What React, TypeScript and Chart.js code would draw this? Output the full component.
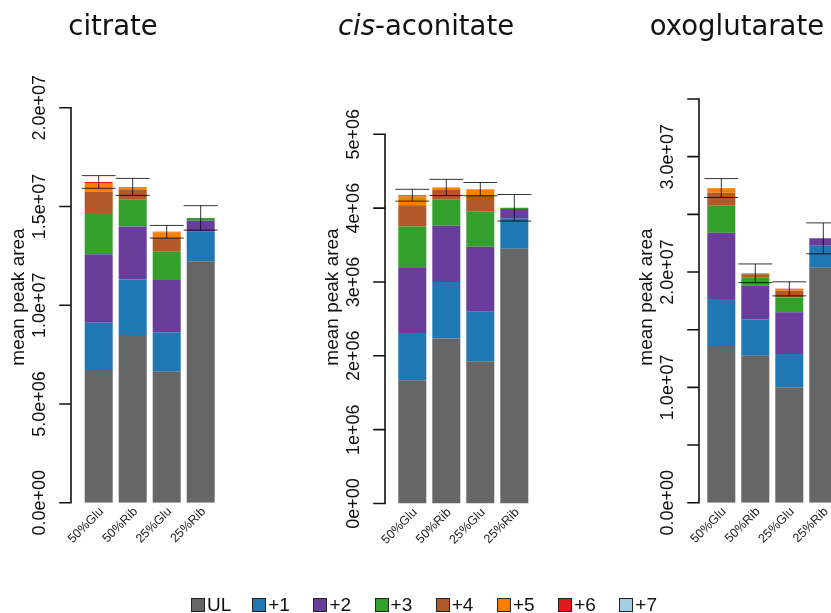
import React, { useEffect, useRef } from "react";
import { Chart, registerables } from "chart.js";

Chart.register(...registerables);

// Sample groups and isotopologue series
const groups = ["50%Glu", "50%Rib", "25%Glu", "25%Rib"];
const isotopologues = ["UL", "+1", "+2", "+3", "+4", "+5", "+6", "+7"];
const isoColors = ["#666666", "#1f78b4", "#6a3d9a", "#33a02c", "#b15928", "#ff7f00", "#e31a1c", "#a6cee3"];

// citrate: mean peak area per isotopologue (one row per series, one column per group)
const citrateAreas = [
  [6.72e6, 8.49e6, 6.63e6, 12.22e6],
  [2.39e6, 2.82e6, 2.0e6, 1.5e6],
  [3.47e6, 2.68e6, 2.65e6, 0.56e6],
  [2.09e6, 1.35e6, 1.43e6, 0.14e6],
  [1.08e6, 0.49e6, 0.71e6, 0],
  [0.44e6, 0.15e6, 0.27e6, 0],
  [0.05e6, 0.01e6, 0.03e6, 0],
  [0, 0, 0, 0],
];
const citrateSd = [0.32e6, 0.43e6, 0.32e6, 0.62e6];
const citrateTicks = [0, 5e6, 1e7, 1.5e7, 2e7];
const citrateTickLabels = ["0.0e+00", "5.0e+06", "1.0e+07", "1.5e+07", "2.0e+07"];

// cis-aconitate
const aconitateAreas = [
  [1.67e6, 2.234e6, 1.927e6, 3.45e6],
  [0.64e6, 0.766e6, 0.67e6, 0.405e6],
  [0.89e6, 0.76e6, 0.88e6, 0.135e6],
  [0.55e6, 0.36e6, 0.48e6, 0.015e6],
  [0.29e6, 0.125e6, 0.22e6, 0],
  [0.12e6, 0.03e6, 0.075e6, 0],
  [0.015e6, 0.005e6, 0.005e6, 0],
  [0, 0, 0, 0],
];
const aconitateSd = [0.08e6, 0.11e6, 0.09e6, 0.18e6];
const aconitateTicks = [0, 1e6, 2e6, 3e6, 4e6, 5e6];
const aconitateTickLabels = ["0e+00", "1e+06", "2e+06", "3e+06", "4e+06", "5e+06"];

// oxoglutarate
const oxoglutarateAreas = [
  [13.59e6, 12.74e6, 10.0e6, 20.37e6],
  [4.07e6, 3.16e6, 2.89e6, 1.91e6],
  [5.75e6, 2.91e6, 3.62e6, 0.64e6],
  [2.34e6, 0.73e6, 1.3e6, 0],
  [1.13e6, 0.26e6, 0.57e6, 0],
  [0.38e6, 0.09e6, 0.15e6, 0],
  [0.02e6, 0, 0.01e6, 0],
  [0, 0, 0, 0],
];
const oxoglutarateSd = [0.82e6, 0.81e6, 0.61e6, 1.34e6];
const oxoglutarateTicks = [0, 5e6, 1e7, 1.5e7, 2e7, 2.5e7, 3e7, 3.5e7];
const oxoglutarateTickLabels = ["0.0e+00", "", "1.0e+07", "", "2.0e+07", "", "3.0e+07", ""];

const CANVAS_W = 880;
const CANVAS_H = 613;
const SANS = '"Liberation Sans", Arial, sans-serif';

type TitlePart = { text: string; italic?: boolean };

type PanelSpec = {
  title: TitlePart[];
  titleCenter: number;
  areas: number[][];
  sd: number[];
  ticks: number[];
  tickLabels: string[];
  area: { left: number; right: number; top: number; bottom: number };
  axisX: number;
};

const panels: PanelSpec[] = [
  {
    title: [{ text: "citrate" }],
    titleCenter: 113,
    areas: citrateAreas,
    sd: citrateSd,
    ticks: citrateTicks,
    tickLabels: citrateTickLabels,
    area: { left: 81.7, right: 217.7, top: 107.7, bottom: 502.7 },
    axisX: 71,
  },
  {
    title: [{ text: "cis", italic: true }, { text: "-aconitate" }],
    titleCenter: 426,
    areas: aconitateAreas,
    sd: aconitateSd,
    ticks: aconitateTicks,
    tickLabels: aconitateTickLabels,
    area: { left: 395.3, right: 531.3, top: 134.3, bottom: 503.5 },
    axisX: 385,
  },
  {
    title: [{ text: "oxoglutarate" }],
    titleCenter: 737,
    areas: oxoglutarateAreas,
    sd: oxoglutarateSd,
    ticks: oxoglutarateTicks,
    tickLabels: oxoglutarateTickLabels,
    area: { left: 704.3, right: 840.3, top: 99, bottom: 502.7 },
    axisX: 699,
  },
];

function makeDecorations(spec: PanelSpec) {
  return {
    id: "panelDecorations",
    afterDatasetsDraw(chart: Chart) {
      const ctx = chart.ctx;
      const xs = chart.scales.x;
      const ys = chart.scales.y;
      const ax = spec.axisX;
      const y0 = ys.getPixelForValue(spec.ticks[0]);
      const yTop = ys.getPixelForValue(spec.ticks[spec.ticks.length - 1]);

      ctx.save();

      // error bars: mean total +/- sd
      ctx.strokeStyle = "rgba(0,0,0,0.8)";
      ctx.lineWidth = 1;
      groups.forEach((_g, i) => {
        let total = 0;
        chart.data.datasets.forEach((ds) => {
          total += Number((ds.data as number[])[i]) || 0;
        });
        const cx = xs.getPixelForValue(i);
        const hi = ys.getPixelForValue(total + spec.sd[i]);
        const lo = ys.getPixelForValue(total - spec.sd[i]);
        ctx.beginPath();
        ctx.moveTo(cx, hi);
        ctx.lineTo(cx, lo);
        ctx.moveTo(cx - 17, hi);
        ctx.lineTo(cx + 17, hi);
        ctx.moveTo(cx - 17, lo);
        ctx.lineTo(cx + 17, lo);
        ctx.stroke();
      });

      // y axis line and ticks
      ctx.strokeStyle = "#111";
      ctx.lineWidth = 1.6;
      ctx.lineCap = "square";
      ctx.beginPath();
      ctx.moveTo(ax, y0);
      ctx.lineTo(ax, yTop);
      spec.ticks.forEach((v) => {
        const py = ys.getPixelForValue(v);
        ctx.moveTo(ax - 11, py);
        ctx.lineTo(ax, py);
      });
      ctx.stroke();

      // rotated tick labels
      ctx.fillStyle = "#111";
      ctx.font = `18px ${SANS}`;
      ctx.textAlign = "center";
      ctx.textBaseline = "alphabetic";
      spec.ticks.forEach((v, k) => {
        const label = spec.tickLabels[k];
        if (!label) return;
        const py = ys.getPixelForValue(v);
        ctx.save();
        ctx.translate(ax - 26, py);
        ctx.rotate(-Math.PI / 2);
        ctx.fillText(label, 0, 0);
        ctx.restore();
      });

      // axis title
      ctx.font = `19px ${SANS}`;
      ctx.save();
      ctx.translate(ax - 47, 297);
      ctx.rotate(-Math.PI / 2);
      ctx.fillText("mean peak area", 0, 0);
      ctx.restore();

      // group labels under the bars
      ctx.fillStyle = "#222";
      ctx.font = `12.5px ${SANS}`;
      ctx.textAlign = "right";
      ctx.textBaseline = "middle";
      groups.forEach((g, i) => {
        const cx = xs.getPixelForValue(i);
        ctx.save();
        ctx.translate(cx + 3, y0 + 7);
        ctx.rotate(-Math.PI / 4);
        ctx.fillText(g, 0, 0);
        ctx.restore();
      });

      // panel title
      ctx.fillStyle = "#111";
      ctx.textAlign = "left";
      ctx.textBaseline = "alphabetic";
      const fontFor = (p: TitlePart) => `${p.italic ? "italic " : ""}27.5px "DejaVu Sans", sans-serif`;
      let width = 0;
      spec.title.forEach((p) => {
        ctx.font = fontFor(p);
        width += ctx.measureText(p.text).width;
      });
      let tx = spec.titleCenter - width / 2;
      spec.title.forEach((p) => {
        ctx.font = fontFor(p);
        ctx.fillText(p.text, tx, 35);
        tx += ctx.measureText(p.text).width;
      });

      ctx.restore();
    },
  };
}

function PanelChart({ spec }: { spec: PanelSpec }) {
  const ref = useRef<HTMLCanvasElement | null>(null);

  useEffect(() => {
    if (!ref.current) return;
    const maxTick = spec.ticks[spec.ticks.length - 1];
    const chart = new Chart(ref.current, {
      type: "bar",
      data: {
        labels: groups,
        datasets: isotopologues.map((name, k) => ({
          label: name,
          data: spec.areas[k],
          backgroundColor: isoColors[k],
          borderWidth: 0,
          barPercentage: 28 / 34,
          categoryPercentage: 1,
        })),
      },
      options: {
        responsive: false,
        animation: false,
        events: [],
        layout: {
          padding: {
            left: spec.area.left,
            right: CANVAS_W - spec.area.right,
            top: spec.area.top,
            bottom: CANVAS_H - spec.area.bottom,
          },
        },
        plugins: {
          legend: { display: false },
          title: { display: false },
          tooltip: { enabled: false },
        },
        scales: {
          x: { stacked: true, display: false },
          y: { stacked: true, display: false, min: 0, max: maxTick },
        },
      },
      plugins: [makeDecorations(spec)],
    });
    return () => chart.destroy();
  }, [spec]);

  return (
    <canvas
      ref={ref}
      width={CANVAS_W}
      height={CANVAS_H}
      style={{ position: "absolute", left: 0, top: 0, width: CANVAS_W, height: CANVAS_H }}
    />
  );
}

export default function App() {
  return (
    <div
      style={{
        position: "fixed",
        left: 0,
        top: 0,
        width: 831,
        height: 613,
        overflow: "hidden",
        background: "#fff",
      }}
    >
      {panels.map((p, i) => (
        <PanelChart key={i} spec={p} />
      ))}
      <div
        style={{
          position: "absolute",
          left: 191,
          top: 596,
          height: 18,
          display: "flex",
          alignItems: "center",
          font: `19px ${SANS}`,
          color: "#111",
        }}
      >
        {isotopologues.map((name, k) => (
          <div key={name} style={{ width: 61.2, height: 18, display: "flex", alignItems: "center" }}>
            <span
              style={{
                display: "inline-block",
                width: 12,
                height: 12,
                background: isoColors[k],
                border: "1.5px solid #222",
                marginRight: 2,
              }}
            />
            <span style={{ lineHeight: "18px" }}>{name}</span>
          </div>
        ))}
      </div>
    </div>
  );
}
